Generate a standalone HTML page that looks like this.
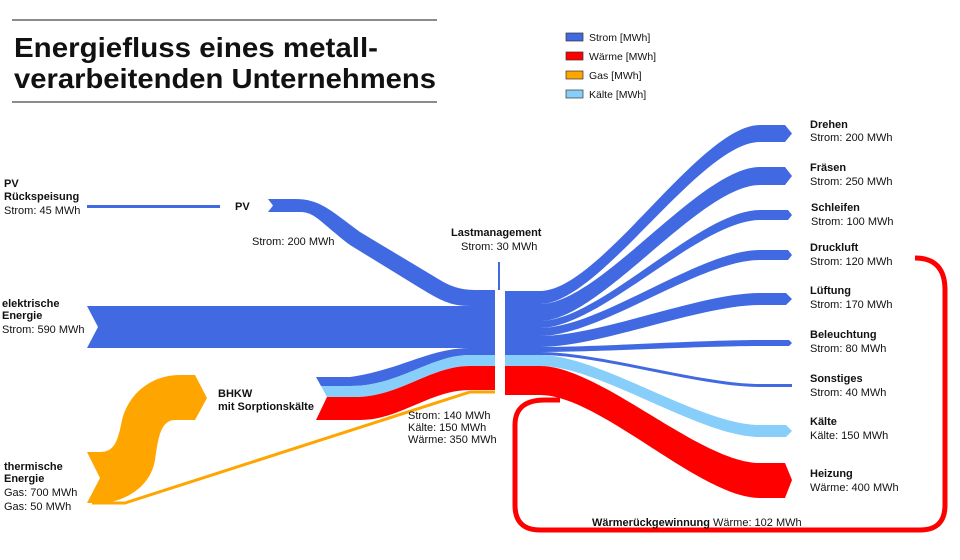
<!DOCTYPE html>
<html><head><meta charset="utf-8"><style>
body{margin:0;background:#fff}
svg{display:block}
text{font-family:"Liberation Sans",sans-serif;fill:#111}
.b{font-weight:bold;font-size:11px}
.n{font-size:11px}
</style></head><body>
<svg width="960" height="560" viewBox="0 0 960 560" xmlns="http://www.w3.org/2000/svg">
<rect width="960" height="560" fill="#fff"/>
<line x1="12" y1="20" x2="437" y2="20" stroke="#666" stroke-width="1.5"/>
<line x1="12" y1="102" x2="437" y2="102" stroke="#666" stroke-width="1.5"/>
<text x="14" y="57" font-size="28" textLength="364" lengthAdjust="spacingAndGlyphs" style="font-weight:bold">Energiefluss eines metall-</text>
<text x="14" y="88" font-size="28" textLength="422" lengthAdjust="spacingAndGlyphs" style="font-weight:bold">verarbeitenden Unternehmens</text>
<rect x="566" y="33" width="17" height="8" fill="#4169e1" stroke="#333" stroke-width="0.7"/>
<text x="589" y="41" font-size="10.5">Strom [MWh]</text>
<rect x="566" y="52" width="17" height="8" fill="#f00" stroke="#333" stroke-width="0.7"/>
<text x="589" y="60" font-size="10.5">Wärme [MWh]</text>
<rect x="566" y="71" width="17" height="8" fill="#ffa500" stroke="#333" stroke-width="0.7"/>
<text x="589" y="79" font-size="10.5">Gas [MWh]</text>
<rect x="566" y="90" width="17" height="8" fill="#87cefa" stroke="#333" stroke-width="0.7"/>
<text x="589" y="98" font-size="10.5">Kälte [MWh]</text>

<path d="M915,258 Q945,258 945,290 L945,505 Q945,530 920,530 L540,530 Q515,530 515,505 L515,425 Q515,400 545,400 L560,400" fill="none" stroke="#f00" stroke-width="5"/>

<rect x="87" y="205" width="133" height="3" fill="#4169e1"/>
<path d="M268,199 L295,199 C320,199 330,210 360,232 L440,280 C455,289 465,290 480,290 L495,290 L495,306 L470,306 C450,306 440,300 420,288 L350,245 C320,222 315,212 300,212 L268,212 L273,205.5 Z" fill="#4169e1"/>
<path d="M87,306 L495,306 L495,348 L87,348 L98,327 Z" fill="#4169e1"/>
<path d="M316,377 L350,377 C400,370 430,348 470,348 L495,348 L495,355 L470,355 C430,355 400,386 350,386 L321,386 Z" fill="#4169e1"/>
<path d="M321,386 L350,386 C400,386 430,355 470,355 L495,355 L495,366 L470,366 C430,366 400,397 355,397 L327,397 Z" fill="#87cefa"/>
<path d="M327,397 L355,397 C400,397 430,366 470,366 L495,366 L495,390 L470,390 C430,390 400,420 360,420 L316,420 Z" fill="#f00"/>
<path d="M87,452 L100,452 C115,452 118,440 122,420 C128,395 150,375 180,375 L195,375 L207,398 L195,420 L175,420 C160,420 158,440 155,460 C150,490 120,503 100,503 L87,503 L100,478 Z" fill="#ffa500"/>
<path d="M92,503 L125,503 C200,480 380,420 470,392 L495,392" fill="none" stroke="#ffa500" stroke-width="3"/>
<rect x="498" y="262" width="2" height="28" fill="#4169e1"/>

<rect x="505" y="291" width="35" height="64" fill="#4169e1"/>
<rect x="505" y="355" width="35" height="11" fill="#87cefa"/>
<rect x="505" y="366" width="35" height="29" fill="#f00"/>
<g fill="#4169e1">
<path d="M540,291 C600,291 700,125 760,125 L785,125 L792,133.5 L785,142 L760,142 C700,142 600,304 540,304 Z"/>
<path d="M540,304 C600,304 700,167 760,167 L785,167 L792,176 L785,185 L760,185 C700,185 600,321 540,321 Z"/>
<path d="M540,321 C600,321 700,210 760,210 L788,210 L792,215 L788,220 L760,220 C700,220 600,328 540,328 Z"/>
<path d="M540,328 C600,328 700,250 760,250 L788,250 L792,255 L788,260 L760,260 C700,260 600,336 540,336 Z"/>
<path d="M540,336 C600,336 700,293 760,293 L786,293 L792,299 L786,305 L760,305 C700,305 600,347 540,347 Z"/>
<path d="M540,347 C600,347 700,340 760,340 L789,340 L792,343 L789,346 L760,346 C700,346 600,352 540,352 Z"/>
<path d="M540,352 C600,352 700,384 760,384 L792,384 L792,387 L760,387 C700,387 600,355 540,355 Z"/>
</g>
<path d="M540,355 C600,355 700,425 760,425 L786,425 L792,431 L786,437 L760,437 C700,437 600,366 540,366 Z" fill="#87cefa"/>
<path d="M540,366 C600,366 700,463 760,463 L785,463 L792,480 L785,498 L760,498 C700,498 600,395 540,395 Z" fill="#f00"/>

<text x="4" y="187" class="b">PV</text>
<text x="4" y="200" class="b">Rückspeisung</text>
<text x="4" y="214" class="n">Strom: 45 MWh</text>
<text x="235" y="210" class="b">PV</text>
<text x="252" y="245" class="n">Strom: 200 MWh</text>
<text x="2" y="307" class="b">elektrische</text>
<text x="2" y="319" class="b">Energie</text>
<text x="2" y="333" class="n">Strom: 590 MWh</text>
<text x="218" y="397" class="b">BHKW</text>
<text x="218" y="410" class="b">mit Sorptionskälte</text>
<text x="408" y="419" class="n">Strom: 140 MWh</text>
<text x="408" y="431" class="n">Kälte: 150 MWh</text>
<text x="408" y="443" class="n">Wärme: 350 MWh</text>
<text x="4" y="470" class="b">thermische</text>
<text x="4" y="482" class="b">Energie</text>
<text x="4" y="496" class="n">Gas: 700 MWh</text>
<text x="4" y="510" class="n">Gas: 50 MWh</text>
<text x="451" y="236" class="b">Lastmanagement</text>
<text x="461" y="250" class="n">Strom: 30 MWh</text>
<text x="810" y="128" class="b">Drehen</text>
<text x="810" y="141" class="n">Strom: 200 MWh</text>
<text x="810" y="171" class="b">Fräsen</text>
<text x="810" y="185" class="n">Strom: 250 MWh</text>
<text x="811" y="211" class="b">Schleifen</text>
<text x="811" y="225" class="n">Strom: 100 MWh</text>
<text x="810" y="251" class="b">Druckluft</text>
<text x="810" y="265" class="n">Strom: 120 MWh</text>
<text x="810" y="294" class="b">Lüftung</text>
<text x="810" y="308" class="n">Strom: 170 MWh</text>
<text x="810" y="338" class="b">Beleuchtung</text>
<text x="810" y="352" class="n">Strom: 80 MWh</text>
<text x="810" y="382" class="b">Sonstiges</text>
<text x="810" y="396" class="n">Strom: 40 MWh</text>
<text x="810" y="425" class="b">Kälte</text>
<text x="810" y="439" class="n">Kälte: 150 MWh</text>
<text x="810" y="477" class="b">Heizung</text>
<text x="810" y="491" class="n">Wärme: 400 MWh</text>
<text x="592" y="526" class="b">Wärmerückgewinnung</text>
<text x="713" y="526" class="n">Wärme: 102 MWh</text>
</svg>
</body></html>
